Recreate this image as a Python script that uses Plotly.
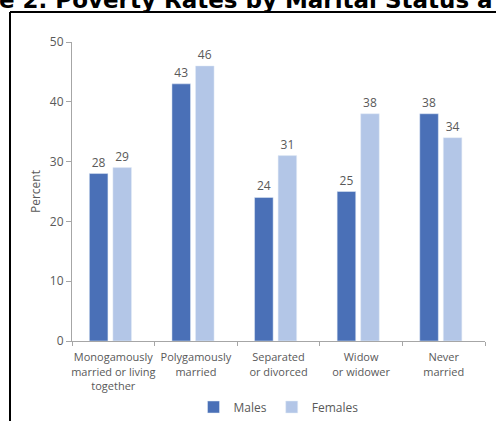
import plotly.graph_objects as go

categories = ["Monogamously<br>married or living<br>together", "Polygamously<br>married",
              "Separated<br>or divorced", "Widow<br>or widower", "Never<br>married"]
males = [28, 43, 24, 25, 38]
females = [29, 46, 31, 38, 34]
male_labels = ["28", "43", "24", "25", "38"]
female_labels = ["29", "46", "31", "38", "34"]

W, H = 496, 421
L, R, T, B = 72, 11, 42, 80
pw, ph = W - L - R, H - T - B

def px(x):
    return (x - L) / pw

def py(y):
    return (H - B - y) / ph

gray = "#595959"
font_fam = "Open Sans, Noto Sans, sans-serif"

fig = go.Figure()
fig.add_trace(go.Bar(name="Males", x=categories, y=males, marker_color="#4a70b7",
                     offset=-0.29, width=0.225,
                     text=male_labels, textposition="outside", cliponaxis=False,
                     textfont=dict(color=gray, size=12, family=font_fam)))
fig.add_trace(go.Bar(name="Females", x=categories, y=females, marker_color="#b3c6e7",
                     offset=-0.005, width=0.225,
                     text=female_labels, textposition="outside", cliponaxis=False,
                     textfont=dict(color=gray, size=12, family=font_fam)))

fig.update_layout(
    width=W, height=H, margin=dict(l=L, r=R, t=T, b=B, autoexpand=False),
    paper_bgcolor="white", plot_bgcolor="white",
    barmode="group",
    font=dict(family=font_fam, color=gray, size=12),
    showlegend=True,
    legend=dict(orientation="h", x=0.5, xanchor="center", y=py(407), yanchor="middle",
                font=dict(size=12, color=gray, family=font_fam), itemwidth=30,
                bgcolor="rgba(0,0,0,0)"),
    xaxis=dict(showline=True, linecolor="#a6a6a6", linewidth=1, ticks="outside",
               tickson="boundaries", ticklen=4, tickcolor="#a6a6a6", tickangle=0,
               automargin=False, ticklabelstandoff=6,
               tickfont=dict(size=11, color=gray, family=font_fam), showgrid=False),
    yaxis=dict(range=[0, 50], dtick=10, showline=True, linecolor="#a6a6a6", linewidth=1,
               ticks="outside", ticklen=5, tickcolor="#a6a6a6", showgrid=False,
               zeroline=False, automargin=False,
               tickfont=dict(size=12, color=gray, family=font_fam),
               title=dict(text="Percent", font=dict(size=12, color=gray, family=font_fam),
                          standoff=6)),
)

# Border of the figure frame (cropped screenshot)
fig.add_shape(type="line", xref="paper", yref="paper", x0=px(10), x1=px(10), y0=py(12), y1=py(425),
              line=dict(color="black", width=2))
fig.add_shape(type="line", xref="paper", yref="paper", x0=px(10), x1=px(500), y0=py(12), y1=py(12),
              line=dict(color="black", width=2))

# Cropped title
fig.add_annotation(text="<b>e 2. Poverty Rates by Marital Status a</b>", xref="paper", yref="paper",
                   x=px(-3), y=py(15), xanchor="left", yanchor="bottom", showarrow=False,
                   font=dict(family="DejaVu Sans", size=23, color="black"))

fig.write_html("out.html")
